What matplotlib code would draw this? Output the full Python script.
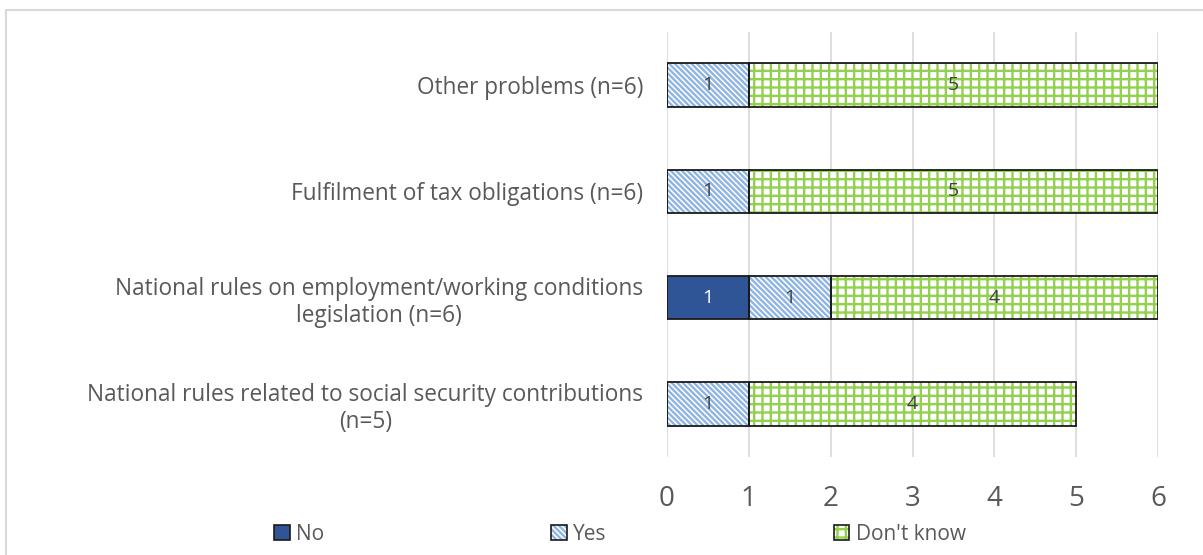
import matplotlib
matplotlib.use("Agg")
import matplotlib.pyplot as plt
from matplotlib.patches import Patch, Rectangle
from matplotlib.legend_handler import HandlerTuple

# Survey answers per problem area
categories = [
    "Other problems (n=6)",
    "Fulfilment of tax obligations (n=6)",
    "National rules on employment/working conditions\nlegislation (n=6)",
    "National rules related to social security contributions\n(n=5)",
]
series_names = ["No", "Yes", "Don't know"]
no_values = [0, 0, 1, 0]
yes_values = [1, 1, 1, 1]
dont_know_values = [5, 5, 4, 4]
x_ticks = [0, 1, 2, 3, 4, 5, 6]

plt.rcParams["font.family"] = ["Open Sans", "DejaVu Sans"]
plt.rcParams["hatch.linewidth"] = 1.7

W, H = 1203, 555
fig = plt.figure(figsize=(W / 100, H / 100), dpi=100)
ax = fig.add_axes([667 / W, 1 - 457 / H, (1158 - 667) / W, (457 - 32) / H])

# outer chart border
fig.add_artist(Rectangle((6 / W, -0.05), 1.2, 1 - 10 / H + 0.05,
                         transform=fig.transFigure, fill=False,
                         edgecolor="#d9d9d9", linewidth=1.5))

styles = [
    dict(face="#2F5597", hatch=None, hcolor=None, text="white"),
    dict(face="white", hatch="\\" * 6, hcolor="#8EB4E3", text="#404040"),
    dict(face="white", hatch="++", hcolor="#92D050", text="#404040"),
]
series = [no_values, yes_values, dont_know_values]

ypos = list(range(len(categories)))
left = [0] * len(categories)
bar_h = 0.41
handles = []
for name, vals, st in zip(series_names, series, styles):
    if st["hatch"]:
        ax.barh(ypos, vals, left=left, height=bar_h, color=st["face"],
                hatch=st["hatch"], edgecolor=st["hcolor"], linewidth=0, zorder=2)
    else:
        ax.barh(ypos, vals, left=left, height=bar_h, color=st["face"],
                linewidth=0, zorder=2)
    ax.barh(ypos, vals, left=left, height=bar_h, fill=False,
            edgecolor="#1a1a1a", linewidth=1.3, zorder=3)
    for y, l, v in zip(ypos, left, vals):
        if v > 0:
            ax.text(l + v / 2, y, str(v), ha="center", va="center",
                    fontsize=14, color=st["text"], zorder=4)
    hp = Patch(facecolor=st["face"], hatch=st["hatch"],
               edgecolor=st["hcolor"] if st["hcolor"] else st["face"], linewidth=0)
    ho = Patch(fill=False, edgecolor="#1a1a1a", linewidth=1.2)
    handles.append((hp, ho))
    left = [a + b for a, b in zip(left, vals)]

ax.set_ylim(len(categories) - 0.5, -0.5)
ax.set_xlim(0, 6)
ax.set_xticks(x_ticks)
ax.set_xticklabels([str(t) for t in x_ticks])
ax.set_yticks(ypos)
ax.set_yticklabels(categories, multialignment="center")
ax.tick_params(axis="x", length=0, pad=20, labelsize=20, labelcolor="#595959")
ax.tick_params(axis="y", length=0, pad=17, labelsize=16.3, labelcolor="#595959")
for s in ax.spines.values():
    s.set_visible(False)
ax.set_axisbelow(True)
ax.grid(axis="x", color="#d9d9d9", linewidth=1.2)
ax.grid(axis="y", visible=False)

fig.legend(handles, series_names, handler_map={tuple: HandlerTuple(ndivide=1, pad=0)},
           loc="center", bbox_to_anchor=(620 / W, 1 - 534 / H), ncol=3,
           frameon=False, fontsize=15, labelcolor="#595959",
           handlelength=0.75, handleheight=0.75, handletextpad=0.3, columnspacing=10.9)

fig.savefig("out.png", dpi=100)
